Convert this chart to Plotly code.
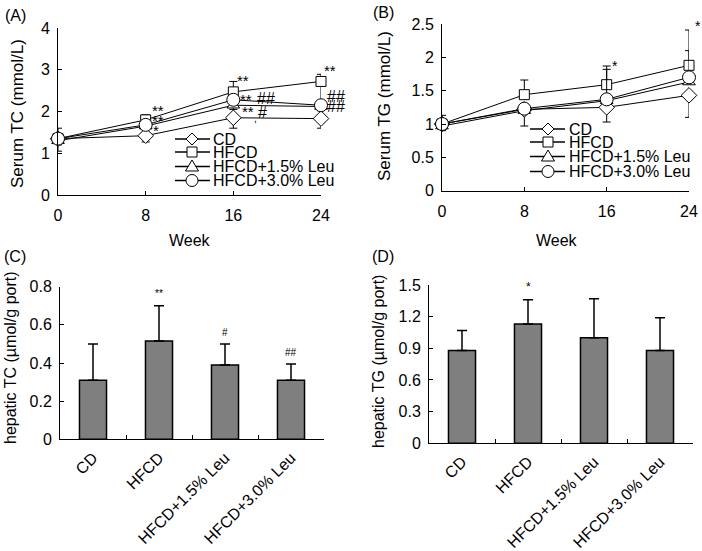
import plotly.graph_objects as go

W, H = 702, 551

# ---------------- data ----------------
weeks = [0, 8, 16, 24]
groups = ["CD", "HFCD", "HFCD+1.5% Leu", "HFCD+3.0% Leu"]

# Panel A: serum TC (mmol/L)
tc_cd = [1.35, 1.42, 1.85, 1.83]
tc_hfcd = [1.35, 1.80, 2.47, 2.72]
tc_leu15 = [1.30, 1.65, 2.15, 2.12]
tc_leu30 = [1.35, 1.68, 2.28, 2.15]
tc_cd_up = [0.25, 0, 0, 0]
tc_cd_dn = [0.30, 0.15, 0.25, 0.23]
tc_hfcd_up = [0, 0.12, 0.25, 0.17]
tc_hfcd_dn = [0, 0, 0, 0.55]
tc_leu15_up = [0, 0, 0, 0]
tc_leu15_dn = [0.10, 0, 0.10, 0.10]
tc_leu30_up = [0, 0, 0, 0]
tc_leu30_dn = [0, 0, 0, 0]

# Panel B: serum TG (mmol/L)
tg_cd = [1.00, 1.22, 1.25, 1.43]
tg_hfcd = [1.00, 1.44, 1.59, 1.88]
tg_leu15 = [0.97, 1.20, 1.35, 1.63]
tg_leu30 = [1.00, 1.23, 1.37, 1.70]
tg_cd_up = [0, 0, 0, 0]
tg_cd_dn = [0.10, 0.25, 0.22, 0.33]
tg_hfcd_up = [0.13, 0.22, 0.28, 0.53]
tg_hfcd_dn = [0, 0, 0, 0]
tg_leu15_up = [0, 0, 0, 0]
tg_leu15_dn = [0, 0, 0, 0]
tg_leu30_up = [0, 0, 0.45, 0.40]
tg_leu30_dn = [0, 0, 0, 0]

# Panel C: hepatic TC (umol/g port)
htc = [0.31, 0.515, 0.39, 0.31]
htc_err = [0.19, 0.185, 0.11, 0.085]
htc_sig = ["", "**", "#", "##"]

# Panel D: hepatic TG (umol/g port)
htg = [0.88, 1.13, 1.00, 0.88]
htg_err = [0.19, 0.23, 0.37, 0.31]
htg_sig = ["", "*", "", ""]

# significance marks on line panels: (week position, value, text)
sig_a = [(9.1, 2.11, "**"), (9.1, 1.87, "**"), (8.9, 1.63, "*"),
         (16.9, 2.85, "**"), (17.2, 2.38, "**"), (19.0, 2.30, "##"),
         (17.3, 2.10, "**"), (18.7, 1.97, "#"), (18.0, 1.84, ","),
         (24.8, 3.08, "**"), (25.4, 2.36, "##"), (25.4, 2.13, "##")]
sig_b = [(16.8, 1.93, "*"), (24.9, 2.53, "*")]

y_ticks_a = [0, 1, 2, 3, 4]
y_ticks_b = [0, 0.5, 1, 1.5, 2, 2.5]
y_ticks_c = [0, 0.2, 0.4, 0.6, 0.8]
y_ticks_d = [0, 0.3, 0.6, 0.9, 1.2, 1.5]
y_text_a = ["0", "1", "2", "3", "4"]
y_text_b = ["0", "0.5", "1", "1.5", "2", "2.5"]
y_text_c = ["0", "0.2", "0.4", "0.6", "0.8"]
y_text_d = ["0", "0.3", "0.6", "0.9", "1.2", "1.5"]

# ---------------- helpers ----------------
FONT = "Liberation Sans, Arial, Helvetica, sans-serif"

# panel frames in pixels: (left, right, top, bottom)
BOX_A = (58, 321, 28, 195)
BOX_B = (442, 689, 24, 190.7)
BOX_C = (60, 324, 286.7, 439.3)
BOX_D = (429, 693, 285, 443.3)
RANGE_X_LINE = (0, 24)
RANGE_A = (0, 4)
RANGE_B = (0, 2.5)
RANGE_C = (0, 0.8)
RANGE_D = (0, 1.5)


def fx(p):
    return p / W


def fy(p):
    return 1 - p / H


def to_paper(box, xr, yr, xv, yv):
    """map data values of a panel to paper fractions (for text outside the axis range)"""
    l, r, t, b = box
    px = l + (xv - xr[0]) / (xr[1] - xr[0]) * (r - l)
    py = b - (yv - yr[0]) / (yr[1] - yr[0]) * (b - t)
    return fx(px), fy(py)


symbols = ["diamond", "square", "triangle-up", "circle"]
msizes = [12, 10, 11, 13]

fig = go.Figure()


def add_lines(xa, ya, series, ups, dns):
    for name, vals, up, dn, sym, ms in zip(groups, series, ups, dns, symbols, msizes):
        fig.add_trace(go.Scatter(
            x=weeks, y=vals, name=name, mode="lines+markers",
            xaxis=xa, yaxis=ya, showlegend=False, cliponaxis=False,
            line=dict(color="black", width=1),
            marker=dict(symbol=sym, size=ms, color="white",
                        line=dict(color="black", width=1)),
            error_y=dict(type="data", symmetric=False, array=up, arrayminus=dn,
                         color="black", thickness=1, width=4),
        ))


add_lines("x", "y", [tc_cd, tc_hfcd, tc_leu15, tc_leu30],
          [tc_cd_up, tc_hfcd_up, tc_leu15_up, tc_leu30_up],
          [tc_cd_dn, tc_hfcd_dn, tc_leu15_dn, tc_leu30_dn])
add_lines("x2", "y2", [tg_cd, tg_hfcd, tg_leu15, tg_leu30],
          [tg_cd_up, tg_hfcd_up, tg_leu15_up, tg_leu30_up],
          [tg_cd_dn, tg_hfcd_dn, tg_leu15_dn, tg_leu30_dn])


def add_bars(xa, ya, vals, errs):
    fig.add_trace(go.Bar(
        x=groups, y=vals, xaxis=xa, yaxis=ya, showlegend=False, width=0.41,
        marker=dict(color="#7f7f7f", line=dict(color="black", width=1.5)),
        error_y=dict(type="data", symmetric=False, array=errs,
                     arrayminus=[0] * len(errs), color="black", thickness=1.5, width=5),
    ))


add_bars("x3", "y3", htc, htc_err)
add_bars("x4", "y4", htg, htg_err)

# ---------------- axes ----------------
tickfont = dict(family=FONT, size=16, color="black")
common = dict(showline=True, linecolor="black", linewidth=1, ticks="inside",
              ticklen=4, tickcolor="black", tickwidth=1, showgrid=False,
              zeroline=False, tickfont=tickfont, mirror=False, fixedrange=True,
              automargin=False)


def xdom(box):
    return [fx(box[0]), fx(box[1])]


def ydom(box):
    return [fy(box[3]), fy(box[2])]


fig.update_layout(
    width=W, height=H, margin=dict(l=0, r=0, t=0, b=0, pad=0, autoexpand=False),
    paper_bgcolor="white", plot_bgcolor="white",
    font=dict(family=FONT, size=16, color="black"),
    showlegend=False,
    xaxis=dict(domain=xdom(BOX_A), range=list(RANGE_X_LINE), tickvals=weeks, anchor="y",
               ticklabelstandoff=6, **common),
    yaxis=dict(domain=ydom(BOX_A), range=list(RANGE_A), tickvals=y_ticks_a,
               ticktext=y_text_a, anchor="x", ticklabelstandoff=4, **common),
    xaxis2=dict(domain=xdom(BOX_B), range=list(RANGE_X_LINE), tickvals=weeks, anchor="y2",
                ticklabelstandoff=6, **common),
    yaxis2=dict(domain=ydom(BOX_B), range=list(RANGE_B), tickvals=y_ticks_b,
                ticktext=y_text_b, anchor="x2", ticklabelstandoff=4, **common),
    xaxis3=dict(domain=xdom(BOX_C), range=[-0.5, 3.5], anchor="y3",
                tickson="boundaries", tickangle=-45, ticklabelstandoff=2, **common),
    yaxis3=dict(domain=ydom(BOX_C), range=list(RANGE_C), tickvals=y_ticks_c,
                ticktext=y_text_c, anchor="x3", ticklabelstandoff=4, **common),
    xaxis4=dict(domain=xdom(BOX_D), range=[-0.5, 3.5], anchor="y4",
                tickson="boundaries", tickangle=-45, ticklabelstandoff=2, **common),
    yaxis4=dict(domain=ydom(BOX_D), range=list(RANGE_D), tickvals=y_ticks_d,
                ticktext=y_text_d, anchor="x4", ticklabelstandoff=4, **common),
)

# ---------------- annotations ----------------
ann = []


def paper_text(x, y, text, size=16, angle=0, xanchor="center"):
    ann.append(dict(x=fx(x), y=fy(y), xref="paper", yref="paper", text=text,
                    showarrow=False, textangle=angle, xanchor=xanchor, yanchor="middle",
                    font=dict(family=FONT, size=size, color="black")))


# panel labels
paper_text(15, 15, "(A)")
paper_text(383, 12, "(B)")
paper_text(15, 256, "(C)")
paper_text(383, 256, "(D)")

# axis titles
paper_text(190, 240, "Week")
paper_text(557, 240, "Week")
paper_text(18, 114, "Serum TC (mmol/L)", size=17, angle=-90)
paper_text(384, 106, "Serum TG (mmol/L)", size=17, angle=-90)
paper_text(10, 358, "hepatic TC (µmol/g port)", angle=-90)
paper_text(378, 362, "hepatic TG (µmol/g port)", angle=-90)


def sig_size(t):
    if t == ",":
        return 10
    return 15 if "*" in t else 16


# significance marks on line panels (placed in paper space so marks beyond week 24 show)
for xs, ys, t in sig_a:
    X, Y = to_paper(BOX_A, RANGE_X_LINE, RANGE_A, xs, ys)
    ann.append(dict(x=X, y=Y, xref="paper", yref="paper", text=t, showarrow=False,
                    xanchor="center", yanchor="middle",
                    yshift=-4 if "*" in t else 0,
                    font=dict(family=FONT, size=sig_size(t), color="black")))
for xs, ys, t in sig_b:
    X, Y = to_paper(BOX_B, RANGE_X_LINE, RANGE_B, xs, ys)
    ann.append(dict(x=X, y=Y, xref="paper", yref="paper", text=t, showarrow=False,
                    xanchor="center", yanchor="middle",
                    yshift=-4, font=dict(family=FONT, size=14, color="black")))

# significance marks on bars
for g, v, e, t in zip(groups, htc, htc_err, htc_sig):
    if t:
        ann.append(dict(x=g, y=v + e, xref="x3", yref="y3", text=t, showarrow=False,
                        xanchor="center", yanchor="bottom", yshift=5 if "*" in t else 4,
                        font=dict(family=FONT, size=10, color="black")))
for g, v, e, t in zip(groups, htg, htg_err, htg_sig):
    if t:
        ann.append(dict(x=g, y=v + e, xref="x4", yref="y4", text=t, showarrow=False,
                        xanchor="center", yanchor="bottom", yshift=4,
                        font=dict(family=FONT, size=12, color="black")))

# ---------------- hand-drawn legends ----------------
shapes = []
marker_paths = {
    "diamond": "M 0 6 L 6 0 L 0 -6 L -6 0 Z",
    "square": "M -5 -5 L 5 -5 L 5 5 L -5 5 Z",
    "triangle-up": "M 0 6.5 L 6.5 -4.5 L -6.5 -4.5 Z",
}


def legend(x0, x1, xm, xt, rows):
    for name, sym, yy in zip(groups, symbols, rows):
        shapes.append(dict(type="line", xref="paper", yref="paper",
                           x0=fx(x0), x1=fx(x1), y0=fy(yy), y1=fy(yy),
                           line=dict(color="black", width=1.5), layer="above"))
        common_s = dict(xref="paper", yref="paper", xsizemode="pixel",
                        ysizemode="pixel", xanchor=fx(xm), yanchor=fy(yy),
                        fillcolor="white", line=dict(color="black", width=1),
                        layer="above")
        if sym == "circle":
            shapes.append(dict(type="circle", x0=-6, x1=6, y0=-6, y1=6, **common_s))
        else:
            shapes.append(dict(type="path", path=marker_paths[sym], **common_s))
        paper_text(xt, yy, name, size=16, xanchor="left")


legend(175, 210, 192, 211, [139, 152, 166.5, 180.5])
legend(530, 565, 548, 567, [129, 142, 156.5, 171.5])

fig.update_layout(annotations=ann, shapes=shapes)

fig.write_html(
    "out.html",
    config={"displayModeBar": False, "staticPlot": True},
    post_script="document.body.style.margin='0';document.body.style.padding='0';",
)
